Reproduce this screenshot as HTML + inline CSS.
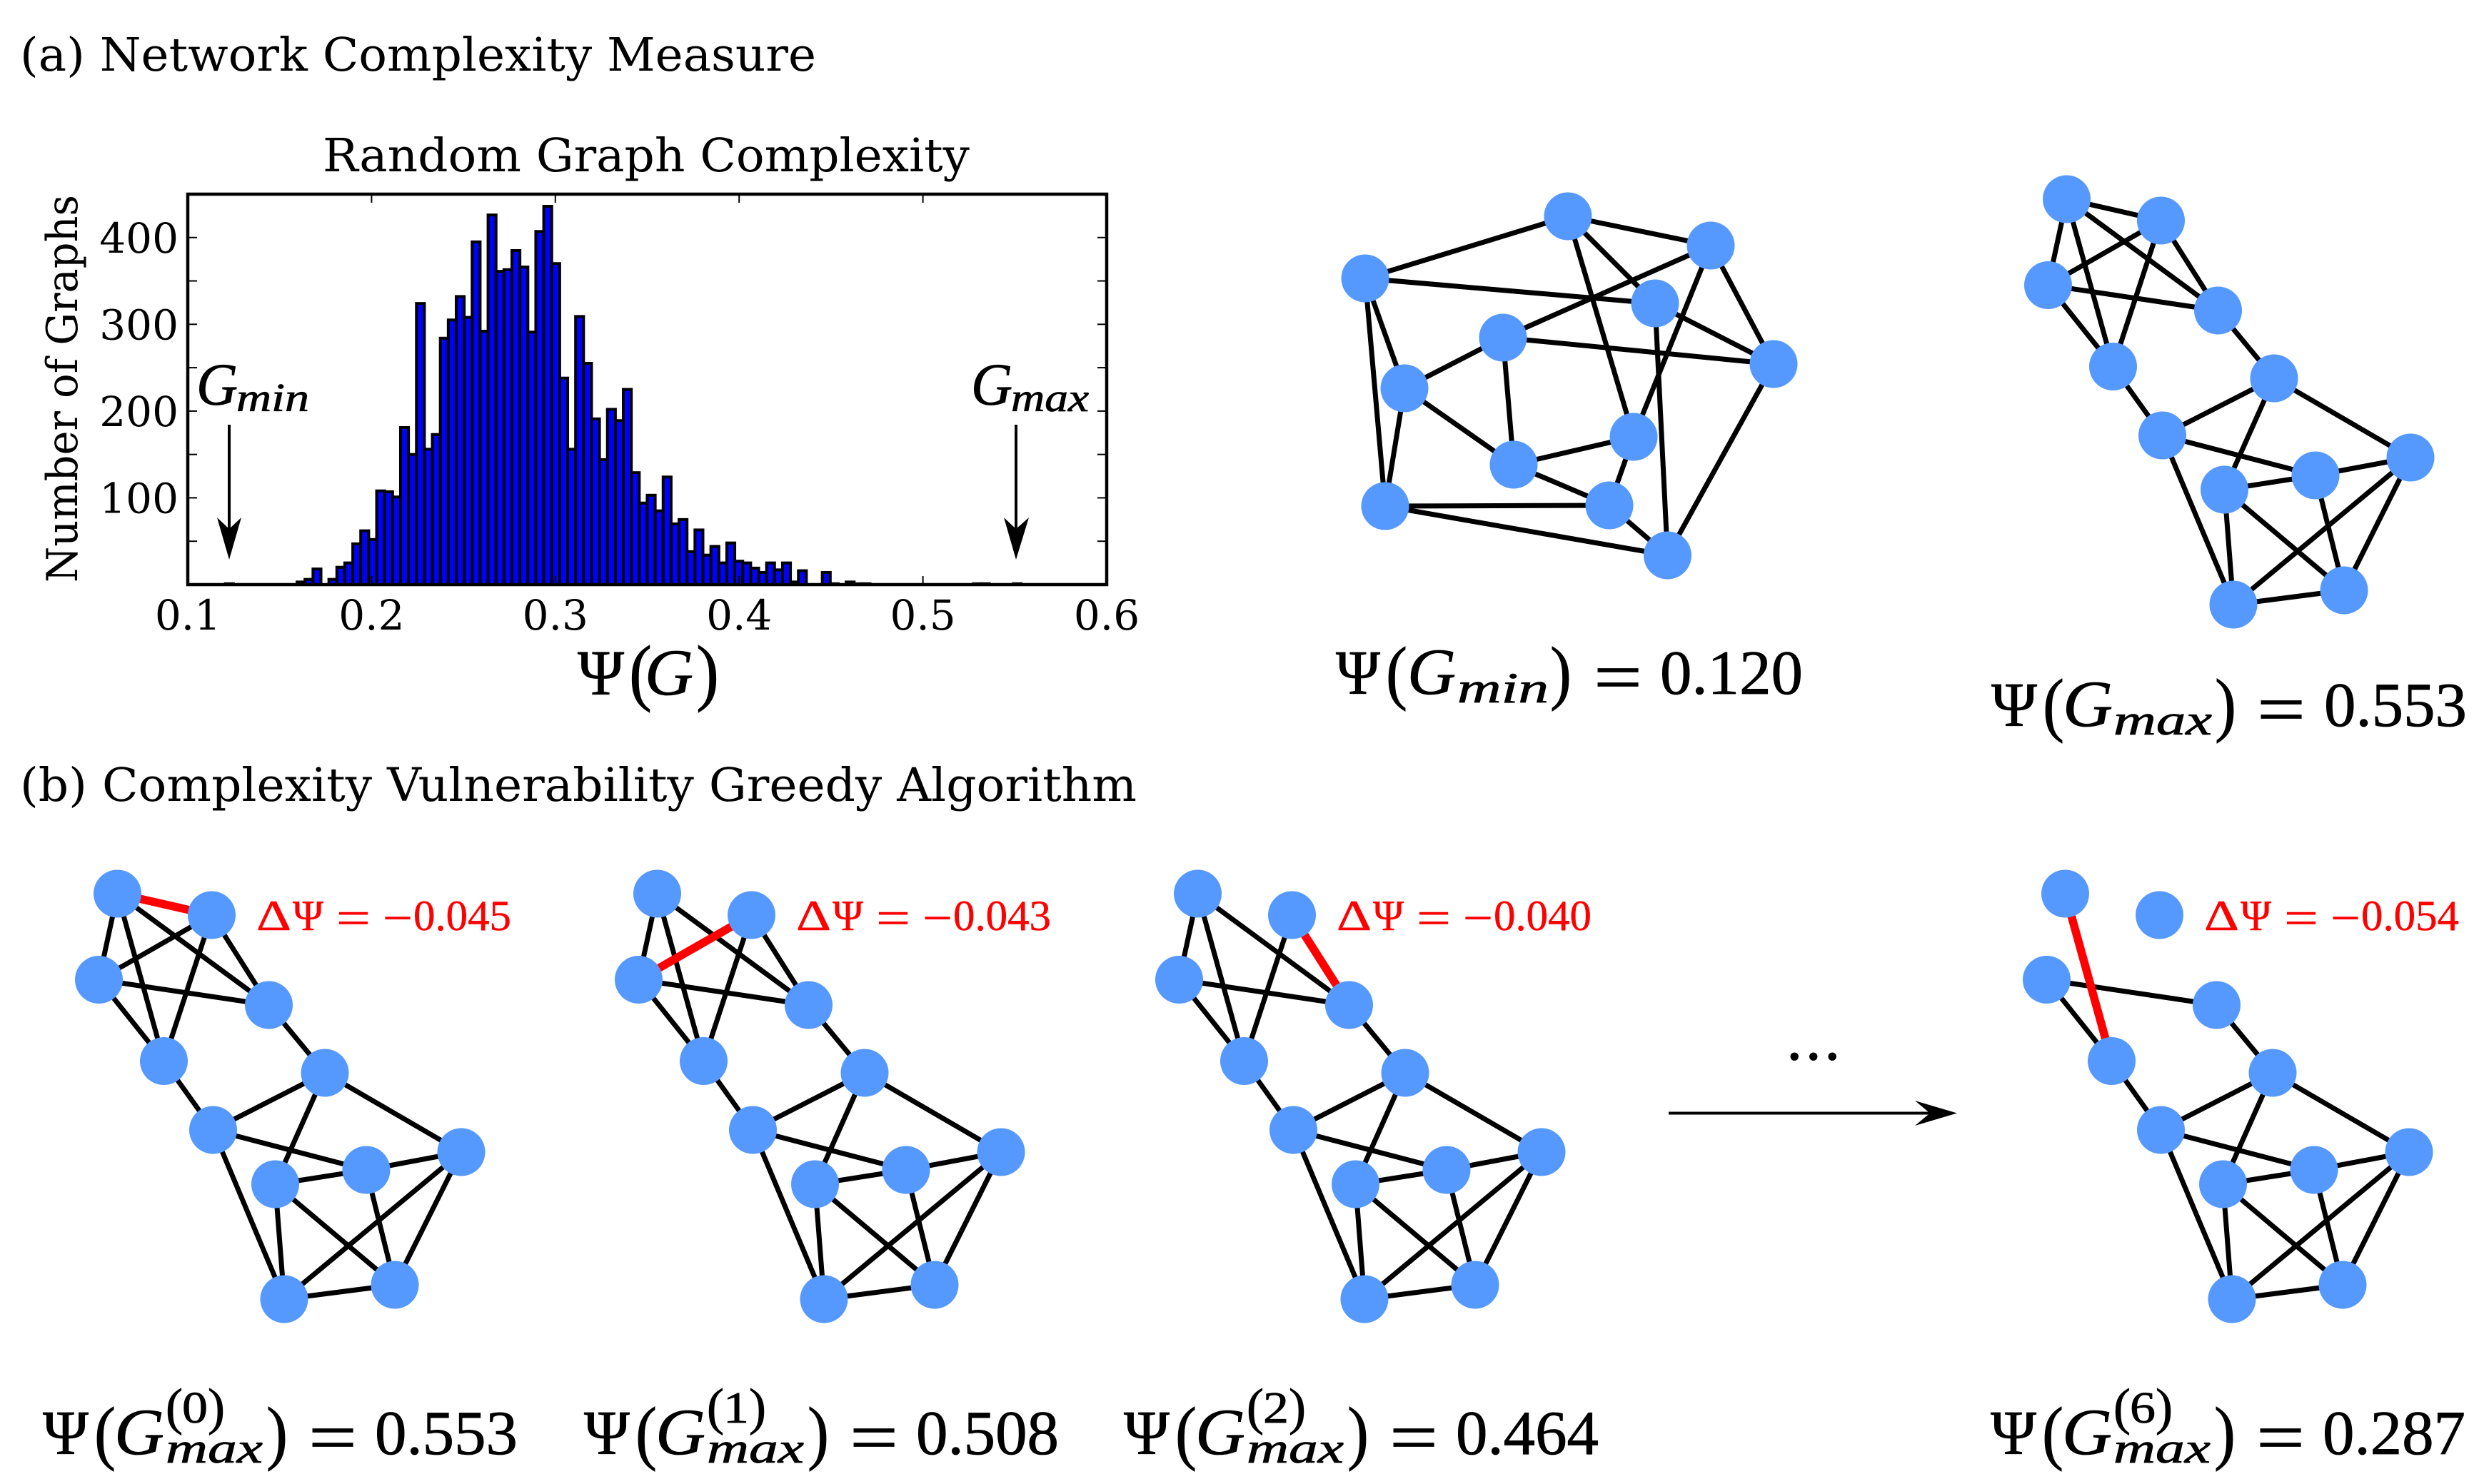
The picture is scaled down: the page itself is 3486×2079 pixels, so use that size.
<!DOCTYPE html>
<html>
<head>
<meta charset="utf-8">
<title>Network Complexity</title>
<style>
html,body{margin:0;padding:0;background:#fff;}
svg{display:block;}
.dj{font-family:"DejaVu Serif",serif;fill:#000;}
.cm{font-family:"Liberation Serif",serif;fill:#000;stroke:#000;stroke-width:.8px;}
.it{font-style:italic;}
.red text{fill:#f00;stroke:#f00;stroke-width:.5px;}
</style>
</head>
<body>
<svg id="fig" xmlns="http://www.w3.org/2000/svg" width="3486" height="2079" viewBox="0 0 3486 2079">
<rect x="0" y="0" width="3486" height="2079" fill="#fff"/>

<text class="dj" x="28" y="99" font-size="65" textLength="1115" lengthAdjust="spacingAndGlyphs">(a) Network Complexity Measure</text>
<text class="dj" x="28" y="1122" font-size="65" textLength="1564" lengthAdjust="spacingAndGlyphs">(b) Complexity Vulnerability Greedy Algorithm</text>
<text class="dj" x="452" y="240" font-size="65" textLength="906" lengthAdjust="spacingAndGlyphs">Random Graph Complexity</text>
<text class="dj" transform="translate(108,816) rotate(-90)" x="0" y="0" font-size="60" textLength="543" lengthAdjust="spacingAndGlyphs">Number of Graphs</text>

<g id="hist"></g>

<g transform="translate(811,973)">
  <text class="cm" x="-2" y="0" font-size="90" textLength="65" lengthAdjust="spacingAndGlyphs">Ψ</text>
  <text class="cm" x="70" y="3" font-size="104" textLength="32" lengthAdjust="spacingAndGlyphs">(</text>
  <text class="cm it" x="92" y="0" font-size="92" textLength="68" lengthAdjust="spacingAndGlyphs">G</text>
  <text class="cm" x="164" y="3" font-size="104" textLength="32" lengthAdjust="spacingAndGlyphs">)</text>
</g>

<g>
  <text class="cm it" x="275" y="567" font-size="84" textLength="58" lengthAdjust="spacingAndGlyphs">G</text>
  <text class="cm it" x="331" y="576" font-size="56" textLength="102" lengthAdjust="spacingAndGlyphs">min</text>
  <line x1="321" y1="595" x2="321" y2="745" stroke="#000" stroke-width="4"/>
  <path d="M321 784 L304 725 L321 741 L338 725 Z" fill="#000"/>
</g>
<g>
  <text class="cm it" x="1360" y="567" font-size="84" textLength="58" lengthAdjust="spacingAndGlyphs">G</text>
  <text class="cm it" x="1416" y="576" font-size="56" textLength="109" lengthAdjust="spacingAndGlyphs">max</text>
  <line x1="1423" y1="595" x2="1423" y2="745" stroke="#000" stroke-width="4"/>
  <path d="M1423 784 L1406 725 L1423 741 L1441 725 Z" fill="#000"/>
</g>

<g id="graphs"></g>

<g transform="translate(1873,972)">
  <text class="cm" x="-2" y="0" font-size="88" textLength="62" lengthAdjust="spacingAndGlyphs">Ψ</text>
  <text class="cm" x="68" y="3" font-size="100" textLength="30" lengthAdjust="spacingAndGlyphs">(</text>
  <text class="cm it" x="98" y="0" font-size="92" textLength="68" lengthAdjust="spacingAndGlyphs">G</text>
  <text class="cm it" x="168" y="12" font-size="60" textLength="128" lengthAdjust="spacingAndGlyphs">min</text>
  <text class="cm" x="298" y="3" font-size="100" textLength="30" lengthAdjust="spacingAndGlyphs">)</text>
  <text class="cm" x="359" y="10" font-size="100" textLength="68" lengthAdjust="spacingAndGlyphs">=</text>
  <text class="cm" x="452" y="0" font-size="88" textLength="200" lengthAdjust="spacingAndGlyphs">0.120</text>
</g>
<g transform="translate(2791,1017)">
  <text class="cm" x="-2" y="0" font-size="88" textLength="64" lengthAdjust="spacingAndGlyphs">Ψ</text>
  <text class="cm" x="70" y="3" font-size="100" textLength="30" lengthAdjust="spacingAndGlyphs">(</text>
  <text class="cm it" x="98" y="0" font-size="92" textLength="70" lengthAdjust="spacingAndGlyphs">G</text>
  <text class="cm it" x="169" y="12" font-size="60" textLength="138" lengthAdjust="spacingAndGlyphs">max</text>
  <text class="cm" x="311" y="3" font-size="100" textLength="30" lengthAdjust="spacingAndGlyphs">)</text>
  <text class="cm" x="370" y="10" font-size="100" textLength="68" lengthAdjust="spacingAndGlyphs">=</text>
  <text class="cm" x="464" y="0" font-size="88" textLength="200" lengthAdjust="spacingAndGlyphs">0.553</text>
</g>

<g class="red" transform="translate(361,1303)">
  <text class="cm" x="-2" y="0" font-size="60" textLength="49" lengthAdjust="spacingAndGlyphs">Δ</text>
  <text class="cm" x="49" y="0" font-size="60" textLength="43" lengthAdjust="spacingAndGlyphs">Ψ</text>
  <text class="cm" x="110" y="5" font-size="66" textLength="48" lengthAdjust="spacingAndGlyphs">=</text>
  <text class="cm" x="175" y="5" font-size="66" textLength="42" lengthAdjust="spacingAndGlyphs">−</text>
  <text class="cm" x="218" y="0" font-size="60" textLength="137" lengthAdjust="spacingAndGlyphs">0.045</text>
</g>
<g class="red" transform="translate(1117,1303)">
  <text class="cm" x="-2" y="0" font-size="60" textLength="49" lengthAdjust="spacingAndGlyphs">Δ</text>
  <text class="cm" x="49" y="0" font-size="60" textLength="43" lengthAdjust="spacingAndGlyphs">Ψ</text>
  <text class="cm" x="110" y="5" font-size="66" textLength="48" lengthAdjust="spacingAndGlyphs">=</text>
  <text class="cm" x="175" y="5" font-size="66" textLength="42" lengthAdjust="spacingAndGlyphs">−</text>
  <text class="cm" x="218" y="0" font-size="60" textLength="137" lengthAdjust="spacingAndGlyphs">0.043</text>
</g>
<g class="red" transform="translate(1874,1303)">
  <text class="cm" x="-2" y="0" font-size="60" textLength="49" lengthAdjust="spacingAndGlyphs">Δ</text>
  <text class="cm" x="49" y="0" font-size="60" textLength="43" lengthAdjust="spacingAndGlyphs">Ψ</text>
  <text class="cm" x="110" y="5" font-size="66" textLength="48" lengthAdjust="spacingAndGlyphs">=</text>
  <text class="cm" x="175" y="5" font-size="66" textLength="42" lengthAdjust="spacingAndGlyphs">−</text>
  <text class="cm" x="218" y="0" font-size="60" textLength="137" lengthAdjust="spacingAndGlyphs">0.040</text>
</g>
<g class="red" transform="translate(3089,1303)">
  <text class="cm" x="-2" y="0" font-size="60" textLength="49" lengthAdjust="spacingAndGlyphs">Δ</text>
  <text class="cm" x="49" y="0" font-size="60" textLength="43" lengthAdjust="spacingAndGlyphs">Ψ</text>
  <text class="cm" x="110" y="5" font-size="66" textLength="48" lengthAdjust="spacingAndGlyphs">=</text>
  <text class="cm" x="175" y="5" font-size="66" textLength="42" lengthAdjust="spacingAndGlyphs">−</text>
  <text class="cm" x="218" y="0" font-size="60" textLength="137" lengthAdjust="spacingAndGlyphs">0.054</text>
</g>

<g transform="translate(62,2037)">
  <text class="cm" x="-2" y="0" font-size="88" textLength="64" lengthAdjust="spacingAndGlyphs">Ψ</text>
  <text class="cm" x="70" y="3" font-size="100" textLength="30" lengthAdjust="spacingAndGlyphs">(</text>
  <text class="cm it" x="98" y="0" font-size="92" textLength="70" lengthAdjust="spacingAndGlyphs">G</text>
  <text class="cm" x="170" y="-42" font-size="72" textLength="24" lengthAdjust="spacingAndGlyphs">(</text>
  <text class="cm" x="193" y="-44" font-size="62" textLength="36" lengthAdjust="spacingAndGlyphs">0</text>
  <text class="cm" x="229" y="-42" font-size="72" textLength="24" lengthAdjust="spacingAndGlyphs">)</text>
  <text class="cm it" x="170" y="12" font-size="60" textLength="136" lengthAdjust="spacingAndGlyphs">max</text>
  <text class="cm" x="311" y="3" font-size="100" textLength="30" lengthAdjust="spacingAndGlyphs">)</text>
  <text class="cm" x="370" y="10" font-size="100" textLength="68" lengthAdjust="spacingAndGlyphs">=</text>
  <text class="cm" x="463" y="0" font-size="88" textLength="200" lengthAdjust="spacingAndGlyphs">0.553</text>
</g>
<g transform="translate(820,2037)">
  <text class="cm" x="-2" y="0" font-size="88" textLength="64" lengthAdjust="spacingAndGlyphs">Ψ</text>
  <text class="cm" x="70" y="3" font-size="100" textLength="30" lengthAdjust="spacingAndGlyphs">(</text>
  <text class="cm it" x="98" y="0" font-size="92" textLength="70" lengthAdjust="spacingAndGlyphs">G</text>
  <text class="cm" x="170" y="-42" font-size="72" textLength="24" lengthAdjust="spacingAndGlyphs">(</text>
  <text class="cm" x="193" y="-44" font-size="62" textLength="36" lengthAdjust="spacingAndGlyphs">1</text>
  <text class="cm" x="229" y="-42" font-size="72" textLength="24" lengthAdjust="spacingAndGlyphs">)</text>
  <text class="cm it" x="170" y="12" font-size="60" textLength="136" lengthAdjust="spacingAndGlyphs">max</text>
  <text class="cm" x="311" y="3" font-size="100" textLength="30" lengthAdjust="spacingAndGlyphs">)</text>
  <text class="cm" x="370" y="10" font-size="100" textLength="68" lengthAdjust="spacingAndGlyphs">=</text>
  <text class="cm" x="463" y="0" font-size="88" textLength="200" lengthAdjust="spacingAndGlyphs">0.508</text>
</g>
<g transform="translate(1576,2037)">
  <text class="cm" x="-2" y="0" font-size="88" textLength="64" lengthAdjust="spacingAndGlyphs">Ψ</text>
  <text class="cm" x="70" y="3" font-size="100" textLength="30" lengthAdjust="spacingAndGlyphs">(</text>
  <text class="cm it" x="98" y="0" font-size="92" textLength="70" lengthAdjust="spacingAndGlyphs">G</text>
  <text class="cm" x="170" y="-42" font-size="72" textLength="24" lengthAdjust="spacingAndGlyphs">(</text>
  <text class="cm" x="193" y="-44" font-size="62" textLength="36" lengthAdjust="spacingAndGlyphs">2</text>
  <text class="cm" x="229" y="-42" font-size="72" textLength="24" lengthAdjust="spacingAndGlyphs">)</text>
  <text class="cm it" x="170" y="12" font-size="60" textLength="136" lengthAdjust="spacingAndGlyphs">max</text>
  <text class="cm" x="311" y="3" font-size="100" textLength="30" lengthAdjust="spacingAndGlyphs">)</text>
  <text class="cm" x="370" y="10" font-size="100" textLength="68" lengthAdjust="spacingAndGlyphs">=</text>
  <text class="cm" x="463" y="0" font-size="88" textLength="200" lengthAdjust="spacingAndGlyphs">0.464</text>
</g>
<g transform="translate(2790,2037)">
  <text class="cm" x="-2" y="0" font-size="88" textLength="64" lengthAdjust="spacingAndGlyphs">Ψ</text>
  <text class="cm" x="70" y="3" font-size="100" textLength="30" lengthAdjust="spacingAndGlyphs">(</text>
  <text class="cm it" x="98" y="0" font-size="92" textLength="70" lengthAdjust="spacingAndGlyphs">G</text>
  <text class="cm" x="170" y="-42" font-size="72" textLength="24" lengthAdjust="spacingAndGlyphs">(</text>
  <text class="cm" x="193" y="-44" font-size="62" textLength="36" lengthAdjust="spacingAndGlyphs">6</text>
  <text class="cm" x="229" y="-42" font-size="72" textLength="24" lengthAdjust="spacingAndGlyphs">)</text>
  <text class="cm it" x="170" y="12" font-size="60" textLength="136" lengthAdjust="spacingAndGlyphs">max</text>
  <text class="cm" x="311" y="3" font-size="100" textLength="30" lengthAdjust="spacingAndGlyphs">)</text>
  <text class="cm" x="370" y="10" font-size="100" textLength="68" lengthAdjust="spacingAndGlyphs">=</text>
  <text class="cm" x="463" y="0" font-size="88" textLength="200" lengthAdjust="spacingAndGlyphs">0.287</text>
</g>

<text class="cm" x="2502" y="1484" font-size="90" letter-spacing="4">...</text>
<g>
  <line x1="2337" y1="1559.5" x2="2710" y2="1559.5" stroke="#000" stroke-width="4"/>
  <path d="M2741 1559.5 L2682 1542 L2703 1559.5 L2682 1577 Z" fill="#000"/>
</g>
</svg>

<script>
// Histogram data
const binCounts = [
  1,0,0,0,0,0,0,0,0,3,
  6,18,0,6,20,25,47,62,52,108,
  107,101,181,150,324,156,173,284,305,332,
  308,395,292,426,361,363,385,366,291,407,
  436,370,238,156,309,255,191,144,202,189,
  225,129,94,103,85,124,70,75,38,63,
  34,44,25,48,27,25,19,14,25,17,
  25,3,16,0,0,14,1,0,3,1,
  1,0,0,0,0,0,0,0,0,0,
  0,0,0,0,1,1,0,0,0,1
];
const binStart = 0.1205;
const binEnd = 0.5535;
const xDomain = [0.1, 0.6];
const yDomain = [0, 450];
const xTickValues = [0.1, 0.2, 0.3, 0.4, 0.5, 0.6];
const xTickLabels = ["0.1", "0.2", "0.3", "0.4", "0.5", "0.6"];
const yTickValues = [50, 100, 150, 200, 250, 300, 350, 400];
const yLabelValues = [100, 200, 300, 400];
const yLabelTexts = ["100", "200", "300", "400"];

// Network diagram data: node layouts and edge lists
const minGraphNodes = [[1912,390],[2196,303],[2396,344],[2318,425],[2105,473],[2484,510],[1967,544],[2288,612],[2120,651],[2254,708],[1940,709],[2335.5,778]];
const minGraphEdges = [[0,1],[1,2],[1,3],[1,7],[2,4],[2,7],[2,5],[0,3],[0,6],[0,10],[6,4],[6,8],[6,10],[4,8],[4,5],[3,5],[3,11],[5,11],[7,8],[7,9],[8,9],[10,9],[10,11],[9,11]];
const maxGraphNodes = [[164.5,1252],[296.5,1282],[138.5,1372.5],[376.5,1408],[229.5,1486.5],[455,1503],[298.5,1583],[646,1614],[513,1639],[385.5,1659],[553,1800],[398,1820]];
const maxGraphEdges = [[0,1],[0,2],[0,4],[0,3],[1,2],[1,4],[1,3],[2,3],[2,4],[4,6],[3,5],[5,6],[5,9],[5,7],[6,8],[6,11],[9,8],[8,7],[9,11],[9,10],[8,10],[7,11],[7,10],[11,10]];
const panelNames = ["gmax-graph", "step-0-graph", "step-1-graph", "step-2-graph", "step-6-graph"];
const panelShiftX = [2730, 0, 756, 1513, 2728];
const panelShiftY = [-973, 0, 0, 0, 0];
const panelRedEdge = [null, "0-1", "1-2", "1-3", "0-4"];
const panelRemoved = [[], [], ["0-1"], ["0-1","1-2"], ["0-1","1-2","1-3","0-2","0-3","1-4"]];

const NS = "http://www.w3.org/2000/svg";
const plotLeft = 263, plotRight = 1550, plotTop = 272, plotBottom = 819;
function xScale(v) { return plotLeft + (v - xDomain[0]) / (xDomain[1] - xDomain[0]) * (plotRight - plotLeft); }
function yScale(v) { return plotBottom - (v - yDomain[0]) / (yDomain[1] - yDomain[0]) * (plotBottom - plotTop); }
function make(tag, attrs, parent) {
  const el = document.createElementNS(NS, tag);
  for (const k in attrs) el.setAttribute(k, attrs[k]);
  parent.appendChild(el);
  return el;
}

const hist = document.getElementById("hist");
const binWidth = (binEnd - binStart) / binCounts.length;
binCounts.forEach(function (count, i) {
  const x0 = xScale(binStart + i * binWidth);
  const x1 = xScale(binStart + (i + 1) * binWidth);
  const bar = make("rect", {x: x0, y: yScale(count), width: x1 - x0, height: plotBottom - yScale(count), fill: "#0000ff", stroke: "#000", "stroke-width": 4}, hist);
  
  
});
xTickValues.forEach(function (v, i) {
  const px = xScale(v);
  const tickBottom = make("line", {x1: px, x2: px, y1: plotBottom, y2: plotBottom - 12, stroke: "#000", "stroke-width": 2}, hist);
  
  
  const tickTop = make("line", {x1: px, x2: px, y1: plotTop, y2: plotTop + 12, stroke: "#000", "stroke-width": 2}, hist);
  
  
  const label = make("text", {x: px, y: 882, "text-anchor": "middle", "font-size": 58, "class": "dj"}, hist);
  label.textContent = xTickLabels[i];
  
  
});
yTickValues.forEach(function (v) {
  const py = yScale(v);
  const tickLeft = make("line", {x1: plotLeft, x2: plotLeft + 13, y1: py, y2: py, stroke: "#000", "stroke-width": 2}, hist);
  
  
  const tickRight = make("line", {x1: plotRight, x2: plotRight - 13, y1: py, y2: py, stroke: "#000", "stroke-width": 2}, hist);
  
  
});
yLabelValues.forEach(function (v, i) {
  const label = make("text", {x: 250, y: yScale(v) + 21, "text-anchor": "end", "font-size": 58, "class": "dj"}, hist);
  label.textContent = yLabelTexts[i];
  
  
});
const frame = make("rect", {x: plotLeft, y: plotTop, width: plotRight - plotLeft, height: plotBottom - plotTop, fill: "none", stroke: "#000", "stroke-width": 4.5}, hist);



const graphs = document.getElementById("graphs");
function drawGraph(name, nodes, edges, dx, dy, redKey, removed) {
  const g = make("g", {}, graphs);
  
  
  const kept = edges.filter(function (e) { return removed.indexOf(e[0] + "-" + e[1]) < 0; });
  kept.filter(function (e) { return e[0] + "-" + e[1] !== redKey; }).forEach(function (e) {
    const line = make("line", {x1: nodes[e[0]][0] + dx, y1: nodes[e[0]][1] + dy, x2: nodes[e[1]][0] + dx, y2: nodes[e[1]][1] + dy, stroke: "#000", "stroke-width": 7}, g);
    
    
  });
  kept.filter(function (e) { return e[0] + "-" + e[1] === redKey; }).forEach(function (e) {
    const line = make("line", {x1: nodes[e[0]][0] + dx, y1: nodes[e[0]][1] + dy, x2: nodes[e[1]][0] + dx, y2: nodes[e[1]][1] + dy, stroke: "#f00", "stroke-width": 11.5}, g);
    
    
  });
  nodes.forEach(function (n) {
    const node = make("circle", {cx: n[0] + dx, cy: n[1] + dy, r: 33.5, fill: "#5599ff"}, g);
    
    
  });
}
drawGraph("gmin-graph", minGraphNodes, minGraphEdges, 0, 0, null, []);
panelNames.forEach(function (name, i) {
  drawGraph(name, maxGraphNodes, maxGraphEdges, panelShiftX[i], panelShiftY[i], panelRedEdge[i], panelRemoved[i]);
});
</script>
</body>
</html>
